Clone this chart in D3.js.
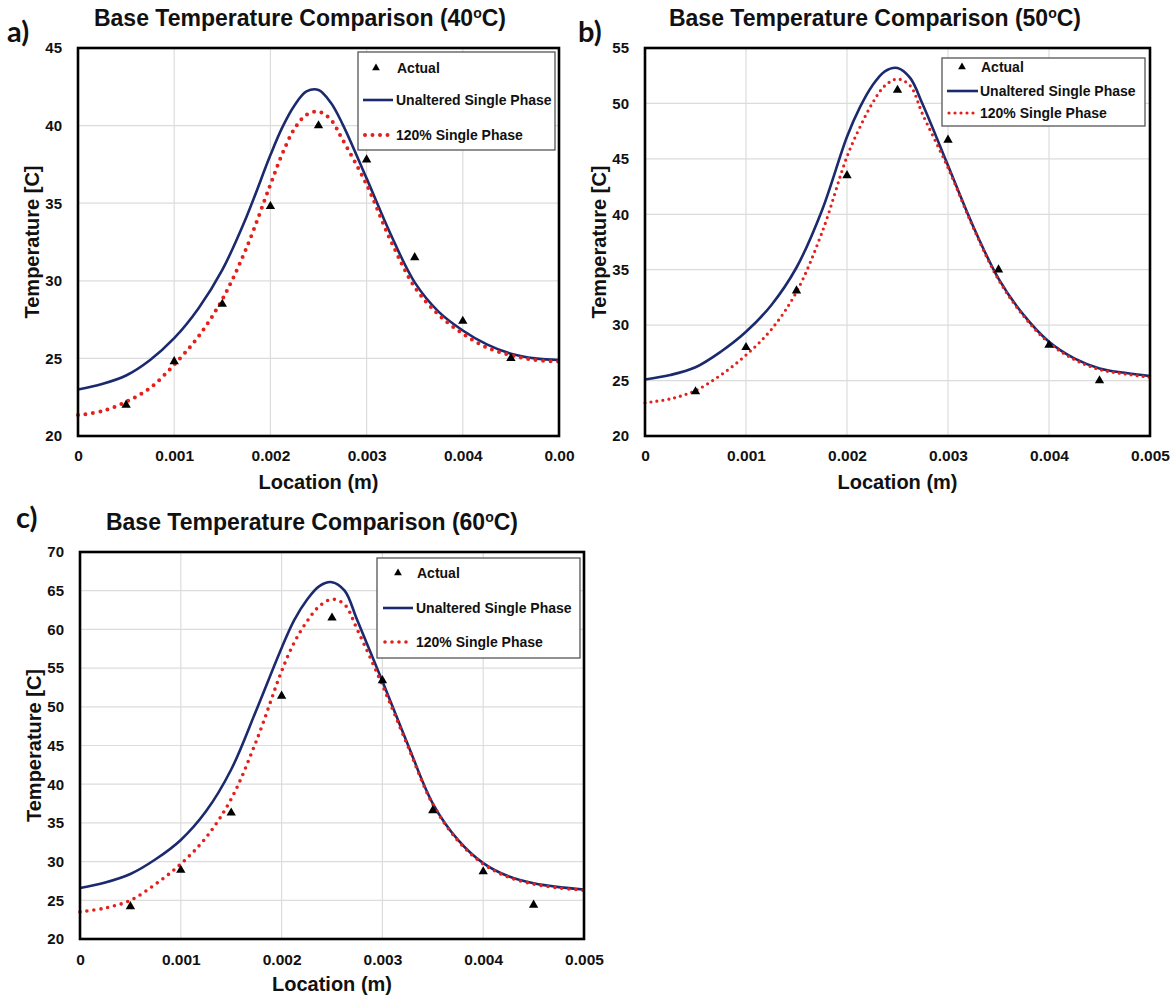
<!DOCTYPE html>
<html>
<head>
<meta charset="utf-8">
<script src="https://cdn.jsdelivr.net/npm/d3@7"></script>
<style>
  html, body { margin: 0; padding: 0; background: #fff; }
  svg { display: block; }
  text { font-family: "Liberation Sans", Arial, sans-serif; font-weight: bold; fill: #111; }
</style>
</head>
<body>
<svg id="chart" width="1175" height="997"></svg>
<script>
// ---------------- DATA ----------------
const locations = [0, 0.00025, 0.0005, 0.00075, 0.001, 0.00125, 0.0015, 0.00175, 0.002, 0.002125,
  0.00225, 0.002375, 0.0025, 0.002625, 0.00275, 0.003, 0.00325, 0.0035, 0.00375, 0.004,
  0.00425, 0.0045, 0.00475, 0.005];

const actualLocations = [0.0005, 0.001, 0.0015, 0.002, 0.0025, 0.003, 0.0035, 0.004, 0.0045];

// Panel a) 40 C
const unaltered40 = [23.0, 23.35, 23.9, 24.9, 26.3, 28.2, 30.7, 34.1, 38.1, 39.9,
  41.3, 42.2, 42.3, 41.5, 40.1, 36.6, 33.0, 29.9, 28.0, 26.8,
  25.9, 25.3, 25.0, 24.9];
const phase120_40 = [21.35, 21.6, 22.2, 23.1, 24.6, 26.4, 28.8, 32.1, 36.2, 38.2,
  39.8, 40.7, 40.9, 40.4, 39.1, 36.2, 32.6, 29.6, 27.8, 26.6,
  25.7, 25.2, 24.9, 24.8];
const actual40 = [22.0, 24.8, 28.5, 34.8, 40.0, 37.8, 31.5, 27.4, 25.0];

// Panel b) 50 C
const unaltered50 = [25.1, 25.5, 26.2, 27.6, 29.4, 31.8, 35.2, 40.3, 47.0, 49.6,
  51.6, 52.9, 53.2, 52.3, 49.9, 44.4, 38.9, 34.2, 30.9, 28.5,
  27.0, 26.1, 25.7, 25.4];
const phase120_50 = [23.0, 23.35, 24.1, 25.5, 27.3, 29.6, 33.0, 38.3, 45.2, 47.8,
  50.0, 51.6, 52.2, 51.6, 49.0, 44.2, 38.8, 34.1, 30.8, 28.4,
  26.9, 26.0, 25.6, 25.3];
const actual50 = [24.0, 28.0, 33.1, 43.5, 51.2, 46.7, 35.0, 28.2, 25.0];

// Panel c) 60 C
const unaltered60 = [26.6, 27.3, 28.4, 30.3, 32.8, 36.5, 41.9, 49.6, 57.6, 61.2,
  63.8, 65.6, 66.1, 65.0, 61.2, 53.3, 45.2, 37.5, 32.8, 29.8,
  28.1, 27.2, 26.7, 26.4];
const phase120_60 = [23.5, 24.0, 25.0, 27.1, 29.7, 33.1, 38.1, 45.6, 54.6, 58.3,
  61.0, 63.0, 63.9, 63.2, 60.0, 52.8, 45.0, 37.4, 32.7, 29.7,
  28.0, 27.1, 26.6, 26.3];
const actual60 = [24.2, 28.9, 36.3, 51.4, 61.5, 53.4, 36.6, 28.7, 24.4];

const xTickValues = [0, 0.001, 0.002, 0.003, 0.004, 0.005];
const xTickLabelsA = ["0", "0.001", "0.002", "0.003", "0.004", "0.00"];
const xTickLabelsBC = ["0", "0.001", "0.002", "0.003", "0.004", "0.005"];
const yTicks40 = [20, 25, 30, 35, 40, 45];
const yTicks50 = [20, 25, 30, 35, 40, 45, 50, 55];
const yTicks60 = [20, 25, 30, 35, 40, 45, 50, 55, 60, 65, 70];

const seriesNames = ["Actual", "Unaltered Single Phase", "120% Single Phase"];
const panelTitles = ["Base Temperature Comparison (40", "Base Temperature Comparison (50", "Base Temperature Comparison (60"];
const panelLetters = ["a)", "b)", "c)"];

// ---------------- LAYOUT ----------------
const panels = [
  { letter: panelLetters[0], title: panelTitles[0], unaltered: unaltered40, p120: phase120_40, actual: actual40,
    yTicks: yTicks40, xLabels: xTickLabelsA,
    left: 78, right: 559, top: 48, bottom: 436,
    titleX: 300, titleY: 26, letterX: 7, letterY: 42,
    yTitleX: 32, xTickY: 461, xTitleY: 489,
    leg: { x: 358, y: 52, w: 197, h: 98, rows: [68, 100, 135], mx: 376, l0: 363, l1: 393, tx: 396 },
    dot: { w: 4, dash: "0 7.5" } },
  { letter: panelLetters[1], title: panelTitles[1], unaltered: unaltered50, p120: phase120_50, actual: actual50,
    yTicks: yTicks50, xLabels: xTickLabelsBC,
    left: 645, right: 1150, top: 48, bottom: 436,
    titleX: 875, titleY: 26, letterX: 578, letterY: 42,
    yTitleX: 599, xTickY: 461, xTitleY: 489,
    leg: { x: 942, y: 58, w: 203, h: 68, rows: [67, 91, 113], mx: 962, l0: 947, l1: 978, tx: 980 },
    dot: { w: 3.2, dash: "0 6" } },
  { letter: panelLetters[2], title: panelTitles[2], unaltered: unaltered60, p120: phase120_60, actual: actual60,
    yTicks: yTicks60, xLabels: xTickLabelsBC,
    left: 80, right: 584, top: 552, bottom: 939,
    titleX: 312, titleY: 530, letterX: 16, letterY: 528,
    yTitleX: 34, xTickY: 965, xTitleY: 991,
    leg: { x: 377, y: 558, w: 203, h: 100, rows: [573, 608, 642], mx: 398, l0: 383, l1: 413, tx: 416 },
    dot: { w: 3.6, dash: "0 7" } }
];

const svg = d3.select("#chart");
const BLUE = "#1b2a6e";
const RED = "#e3201b";

panels.forEach(p => {
  const g = svg.append("g");
  const x = d3.scaleLinear().domain([0, 0.005]).range([p.left, p.right]);
  const y = d3.scaleLinear().domain([20, p.yTicks[p.yTicks.length - 1]]).range([p.bottom, p.top]);

  // gridlines
  g.append("g").selectAll("line.v").data(xTickValues.slice(1, -1)).join("line")
    .attr("x1", d => x(d)).attr("x2", d => x(d)).attr("y1", p.top).attr("y2", p.bottom)
    .attr("stroke", "#dcdcdc").attr("stroke-width", 1.2);
  g.append("g").selectAll("line.h").data(p.yTicks.slice(1, -1)).join("line")
    .attr("x1", p.left).attr("x2", p.right).attr("y1", d => y(d)).attr("y2", d => y(d))
    .attr("stroke", "#dcdcdc").attr("stroke-width", 1.2);

  // axes (labels only, via d3 axes)
  const yAxis = d3.axisLeft(y).tickValues(p.yTicks).tickSize(0).tickPadding(16);
  const ya = g.append("g").attr("transform", `translate(${p.left},0)`).call(yAxis);
  ya.select(".domain").remove();
  ya.selectAll("text").style("font-size", "15px").style("font-family", "'Liberation Sans', Arial, sans-serif")
    .style("font-weight", "bold").attr("fill", "#111");

  const xAxis = d3.axisBottom(x).tickValues(xTickValues).tickSize(0).tickPadding(0)
    .tickFormat((d, i) => p.xLabels[i]);
  const xa = g.append("g").attr("transform", `translate(0,${p.bottom})`).call(xAxis);
  xa.select(".domain").remove();
  xa.selectAll("text").attr("dy", null).attr("y", p.xTickY - p.bottom)
    .style("font-size", "15.5px").style("font-family", "'Liberation Sans', Arial, sans-serif")
    .style("font-weight", "bold").attr("fill", "#111");

  // lines
  const line = d3.line().x((d, i) => x(locations[i])).y(d => y(d)).curve(d3.curveCatmullRom.alpha(0.5));
  g.append("path").datum(p.unaltered).attr("d", line)
    .attr("fill", "none").attr("stroke", BLUE).attr("stroke-width", 2.6);
  g.append("path").datum(p.p120).attr("d", line)
    .attr("fill", "none").attr("stroke", RED).attr("stroke-width", p.dot.w)
    .attr("stroke-linecap", "round").attr("stroke-dasharray", p.dot.dash);

  // actual markers
  const tri = d3.symbol().type(d3.symbolTriangle).size(38);
  g.append("g").selectAll("path").data(p.actual).join("path")
    .attr("d", tri).attr("fill", "#000")
    .attr("transform", (d, i) => `translate(${x(actualLocations[i])},${y(d)})`);

  // frame
  g.append("rect").attr("x", p.left).attr("y", p.top)
    .attr("width", p.right - p.left).attr("height", p.bottom - p.top)
    .attr("fill", "none").attr("stroke", "#000").attr("stroke-width", 2.6);

  // legend
  const L = p.leg;
  const lg = g.append("g");
  lg.append("rect").attr("x", L.x).attr("y", L.y).attr("width", L.w).attr("height", L.h)
    .attr("fill", "#fff").attr("stroke", "#555").attr("stroke-width", 1.3);
  lg.append("path").attr("d", d3.symbol().type(d3.symbolTriangle).size(26))
    .attr("transform", `translate(${L.mx},${L.rows[0]})`).attr("fill", "#000");
  lg.append("line").attr("x1", L.l0).attr("x2", L.l1).attr("y1", L.rows[1]).attr("y2", L.rows[1])
    .attr("stroke", BLUE).attr("stroke-width", 2.6);
  lg.append("line").attr("x1", L.l0 + 2).attr("x2", L.l1).attr("y1", L.rows[2]).attr("y2", L.rows[2])
    .attr("stroke", RED).attr("stroke-width", p.dot.w).attr("stroke-linecap", "round")
    .attr("stroke-dasharray", p.dot.dash);
  seriesNames.forEach((s, i) => {
    lg.append("text").attr("x", i === 0 ? L.tx + 1 : L.tx).attr("y", L.rows[i])
      .attr("dy", "0.35em").style("font-size", "14px").text(s);
  });

  // titles
  const t = g.append("text").attr("x", p.titleX).attr("y", p.titleY)
    .attr("text-anchor", "middle").style("font-size", "23px");
  t.append("tspan").text(p.title);
  t.append("tspan").attr("dy", "-8").style("font-size", "14px").text("o");
  t.append("tspan").attr("dy", "8").text("C)");

  g.append("text").attr("x", p.letterX).attr("y", p.letterY)
    .style("font-family", "Lato, 'Open Sans', sans-serif").style("font-size", "29px")
    .style("font-weight", "bold").attr("fill", "#1a1a1a").text(p.letter);

  g.append("text").attr("transform", `translate(${p.yTitleX},${(p.top + p.bottom) / 2}) rotate(-90)`)
    .attr("text-anchor", "middle").attr("dy", "0.35em").style("font-size", "20px").text("Temperature [C]");

  g.append("text").attr("x", (p.left + p.right) / 2).attr("y", p.xTitleY)
    .attr("text-anchor", "middle").style("font-size", "20px").text("Location (m)");
});
</script>
</body>
</html>
